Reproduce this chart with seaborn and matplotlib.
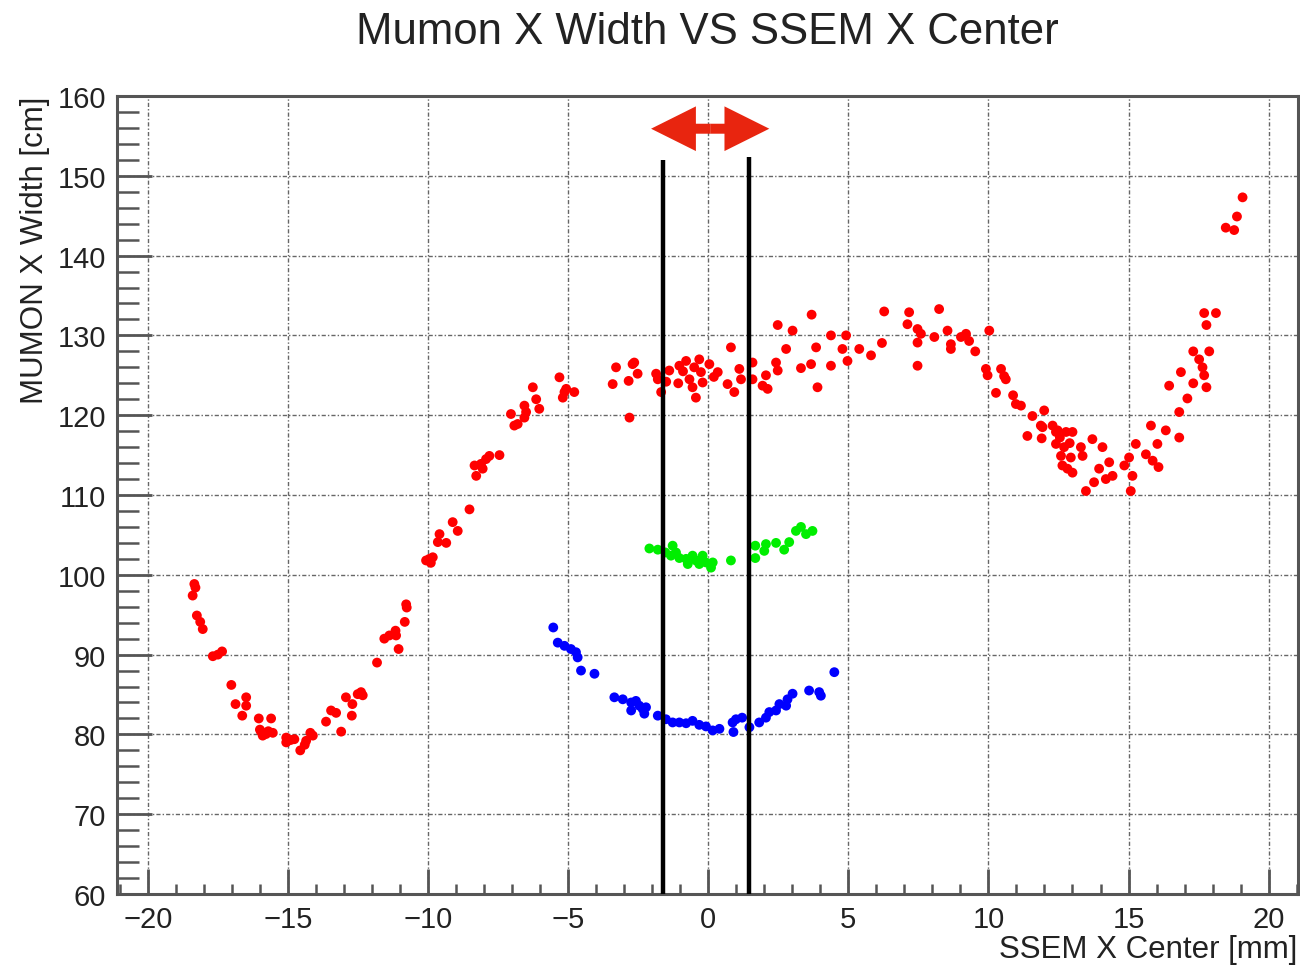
import pandas as pd
import matplotlib
matplotlib.use("Agg")
import matplotlib.pyplot as plt
from matplotlib.ticker import MultipleLocator
import seaborn as sns

# --- Data (SSEM X center [mm], MUMON X width [cm]) ---
red_x = [-18.34, -18.3, -18.4, -18.25, -18.13, -18.04, -17.68, -17.5, -17.35, -17.02,
         -16.87, -16.49, -16.49, -16.63, -16.04, -15.6, -15.96, -15.78, -15.54, -15.9,
         -15.7, -16.0, -15.06, -15.06, -14.77, -14.9, -14.56, -14.4, -14.35, -14.2,
         -14.11, -13.64, -13.46, -13.28, -13.1, -12.93, -12.72, -12.7, -12.51, -12.39,
         -12.33, -11.82, -11.56, -11.38, -11.16, -11.14, -11.05, -10.83, -10.76, -10.78,
         -10.07, -9.95, -9.83, -9.9, -9.65, -9.59, -9.35, -9.12, -8.94, -8.52,
         -8.34, -8.28, -8.11, -8.05, -7.93, -7.81, -7.45, -7.04, -6.92, -6.8,
         -6.56, -6.5, -6.56, -6.26, -6.14, -6.03, -5.31, -5.19, -5.13, -5.07,
         -4.78, -3.41, -3.29, -2.84, -2.81, -2.7, -2.64, -2.52,
         -1.86, -1.8, -1.68, -1.5, -1.39, -1.03, -0.9, -0.79, -0.5, -0.32,
         -1.07, -0.67, -0.56, -0.44, -0.26, -0.2, 0.04, 0.2, 0.34, 0.69,
         0.81, 0.93, 1.11, 1.17, 1.58, 1.58, 1.94, 2.12, 2.06, 2.42,
         2.48, 2.48, 3.01, 2.78, 3.31, 3.67, 3.69, 3.85, 3.9, 4.38,
         4.38, 4.79, 4.92, 4.97, 5.39, 5.81, 6.2, 6.28,
         7.17, 7.11, 7.47, 7.59, 7.47, 7.47, 8.07, 8.24, 8.54, 8.66,
         8.66, 9.02, 9.2, 9.31, 9.53, 10.03, 9.91, 9.97, 10.27, 10.45,
         10.56, 10.62, 10.88, 10.98, 11.16, 11.57, 11.99, 11.39, 11.9, 11.87,
         11.93, 12.29, 12.41, 12.47, 12.55, 12.77, 13.0, 12.41, 12.7, 12.9,
         12.59, 12.94, 12.64, 12.82, 13.0, 13.3, 13.36, 13.71, 14.07, 13.95,
         13.48, 13.77, 14.19, 14.31, 14.43, 14.85, 15.02, 15.14, 15.08, 15.26,
         15.62, 15.8, 15.86, 16.03, 16.07, 16.33, 16.45, 16.81, 16.81, 16.87,
         17.1, 17.31, 17.31, 17.52, 17.64, 17.7, 17.78, 17.88, 17.7, 18.12,
         17.78, 18.47, 18.77, 18.87, 19.07]
red_y = [98.85, 98.4, 97.4, 94.9, 94.1, 93.2, 89.8, 90.0, 90.4, 86.2,
         83.8, 84.65, 83.6, 82.35, 82.0, 82.0, 80.35, 80.05, 80.2, 79.85,
         80.4, 80.6, 79.6, 79.0, 79.4, 79.3, 78.0, 78.7, 79.2, 80.2,
         79.85, 81.6, 83.0, 82.7, 80.35, 84.65, 82.35, 83.8, 85.05, 85.3,
         84.9, 89.0, 92.0, 92.4, 93.0, 92.4, 90.7, 94.1, 95.9, 96.3,
         101.8, 102.0, 102.2, 101.5, 104.1, 105.1, 104.0, 106.6, 105.5, 108.2,
         113.7, 112.4, 113.9, 113.3, 114.5, 114.9, 115.0, 120.15, 118.7, 118.9,
         121.2, 120.4, 119.7, 123.5, 122.0, 120.8, 124.75, 122.2, 122.9, 123.3,
         122.9, 123.9, 126.0, 124.3, 119.7, 126.4, 126.6, 125.2,
         125.2, 124.5, 122.9, 124.2, 125.6, 126.2, 125.5, 126.8, 126.0, 127.0,
         124.0, 124.5, 123.5, 122.2, 125.4, 124.1, 126.4, 124.8, 125.4, 123.9,
         128.5, 122.9, 125.8, 124.5, 126.6, 124.5, 123.7, 123.3, 125.0, 126.6,
         125.6, 131.3, 130.6, 128.3, 125.9, 126.4, 132.6, 128.5, 123.5, 126.2,
         130.0, 128.3, 130.0, 126.8, 128.3, 127.5, 129.05, 133.0,
         132.9, 131.4, 130.8, 130.2, 129.1, 126.2, 129.8, 133.3, 130.6, 128.9,
         128.3, 129.8, 130.2, 129.3, 128.0, 130.6, 125.8, 125.0, 122.8, 125.8,
         124.9, 124.5, 122.5, 121.4, 121.2, 119.9, 120.6, 117.4, 117.1, 118.7,
         118.5, 118.7, 117.9, 118.1, 117.2, 117.9, 117.9, 116.4, 116.0, 116.5,
         114.9, 114.7, 113.7, 113.3, 112.8, 116.0, 114.9, 117.0, 116.0, 113.3,
         110.5, 111.6, 112.0, 114.1, 112.4, 113.7, 114.7, 112.4, 110.5, 116.4,
         115.1, 118.7, 114.3, 116.4, 113.5, 118.1, 123.7, 117.2, 120.4, 125.4,
         122.1, 128.0, 124.0, 127.0, 126.0, 125.0, 123.5, 128.0, 132.8, 132.8,
         131.3, 143.5, 143.2, 144.9, 147.3]

green_x = [-2.1, -1.8, -1.53, -1.27, -1.33, -1.15, -1.03, -0.79, -0.73, -0.56,
           -0.44, -0.32, -0.2, -0.08, 0.1, 0.16, 0.81, 1.68, 1.68, 2.06,
           2.0, 2.42, 2.71, 2.89, 3.13, 3.31, 3.49, 3.72]
green_y = [103.3, 103.15, 102.8, 103.65, 102.4, 102.8, 102.1, 102.0, 101.35, 102.4,
           101.8, 101.35, 102.4, 101.55, 100.9, 101.55, 101.8, 102.1, 103.65, 103.85,
           103.0, 104.0, 103.15, 104.1, 105.5, 106.0, 105.1, 105.5]

blue_x = [-5.53, -5.37, -5.13, -4.9, -4.72, -4.66, -4.54, -4.06, -3.35, -3.05,
          -2.75, -2.58, -2.46, -2.34, -2.22, -2.75, -2.28, -1.8, -1.51, -1.27,
          -1.03, -0.79, -0.56, -0.32, -0.08, 0.16, 0.4, 0.87, 0.99, 1.21,
          0.9, 1.47, 1.82, 2.06, 2.18, 2.42, 2.54, 2.78, 3.01, 2.83,
          3.6, 3.96, 4.02, 4.5]
blue_y = [93.4, 91.5, 91.1, 90.7, 90.3, 89.65, 88.0, 87.6, 84.65, 84.4,
          84.0, 84.2, 83.6, 83.2, 83.4, 83.0, 82.6, 82.35, 81.9, 81.5,
          81.5, 81.4, 81.7, 81.2, 81.0, 80.5, 80.7, 81.5, 81.9, 82.1,
          80.3, 80.9, 81.5, 82.1, 82.8, 83.0, 83.8, 83.6, 85.1, 84.4,
          85.5, 85.3, 84.85, 87.8]

# vertical cut lines and the red arrow above them
cut_x = [-1.63, 1.44]
cut_top = [152.0, 152.3]

df = pd.concat([
    pd.DataFrame({"x": red_x, "y": red_y, "series": "red"}),
    pd.DataFrame({"x": green_x, "y": green_y, "series": "green"}),
    pd.DataFrame({"x": blue_x, "y": blue_y, "series": "blue"}),
], ignore_index=True)

sns.set_style("white")
plt.rcParams["font.family"] = ["Liberation Sans", "DejaVu Sans"]

fig = plt.figure(figsize=(13, 9.7), dpi=100)
ax = fig.add_axes([0.09, 0.0773, 0.9085, 0.8227])

sns.scatterplot(data=df, x="x", y="y", hue="series",
                palette={"red": "#ff0000", "green": "#00ee00", "blue": "#0000ff"},
                s=50, linewidth=0, legend=False, ax=ax, zorder=3)

ax.vlines(cut_x, 60, cut_top, color="black", linewidth=3.2, zorder=4)
ax.arrow(0.07, 155.9, 2.11, 0, width=1.25, head_width=5.6, head_length=1.6,
         length_includes_head=True, color="#e8250f", lw=0, zorder=5)
ax.arrow(0.07, 155.9, -2.11, 0, width=1.25, head_width=5.6, head_length=1.6,
         length_includes_head=True, color="#e8250f", lw=0, zorder=5)

# --- Axes styling (ROOT look) ---
ax.set_xlim(-21.1, 21.05)
ax.set_ylim(60, 160)
ax.xaxis.set_major_locator(MultipleLocator(5))
ax.xaxis.set_minor_locator(MultipleLocator(1))
ax.yaxis.set_major_locator(MultipleLocator(10))
ax.yaxis.set_minor_locator(MultipleLocator(2))

ax.grid(True, which="major", color="#666666", linestyle=(0, (3, 1.5, 1, 1.5)),
        linewidth=1.0, zorder=0)
ax.set_axisbelow(True)

for side in ax.spines.values():
    side.set_color("#555555")
    side.set_linewidth(2.2)

ax.tick_params(which="both", bottom=True, left=True, top=False, right=False)
ax.tick_params(axis="y", which="major", direction="in", length=25, width=2.0,
               color="#555555", labelsize=21, labelcolor="#222222", pad=8)
ax.tick_params(axis="y", which="minor", direction="in", length=16, width=1.8,
               color="#555555")
ax.tick_params(axis="x", which="major", direction="in", length=18, width=2.0,
               color="#555555", labelsize=21, labelcolor="#222222", pad=8)
ax.tick_params(axis="x", which="minor", direction="in", length=7, width=1.8,
               color="#555555")

ax.set_xlabel("")
ax.set_ylabel("")
fig.text(0.5442, 0.967, "Mumon X Width VS SSEM X Center", ha="center", va="center",
         fontsize=31.5, color="#222222")
fig.text(0.9977, 1 - 950 / 970, "SSEM X Center [mm]", ha="right", va="center",
         fontsize=22.5, color="#222222")
fig.text(35 / 1300, 0.9, "MUMON X Width [cm]", rotation=90, ha="center", va="top",
         fontsize=22.5, color="#222222")

fig.savefig("out.png", dpi=100)
